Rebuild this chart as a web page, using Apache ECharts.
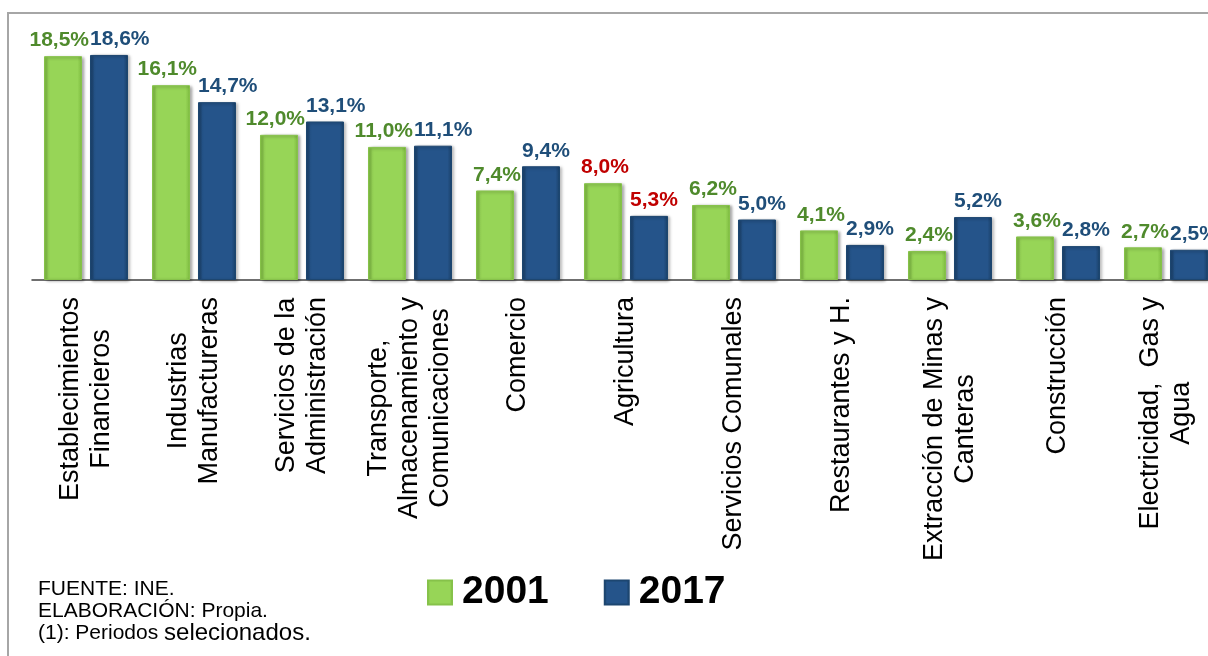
<!DOCTYPE html>
<html>
<head>
<meta charset="utf-8">
<script src="https://cdn.jsdelivr.net/npm/echarts@6/dist/echarts.min.js"></script>
<style>
  html, body { margin: 0; padding: 0; background: #fff; }
  #chart { width: 1208px; height: 656px; }
</style>
</head>
<body>
<div id="chart"></div>
<script>
// categorías del eje X (saltos de línea como en el original)
const categories = [
  "Establecimientos\nFinancieros",
  "Industrias\nManufactureras",
  "Servicios de la\nAdministración",
  "Transporte,\nAlmacenamiento y\nComunicaciones",
  "Comercio",
  "Agricultura",
  "Servicios Comunales",
  "Restaurantes y H.",
  "Extracción de Minas y\nCanteras",
  "Construcción",
  "Electricidad,  Gas y\nAgua"
];
const seriesNames = ["2001", "2017"];
const values2001 = [18.5, 16.1, 12.0, 11.0, 7.4, 8.0, 6.2, 4.1, 2.4, 3.6, 2.7];
const values2017 = [18.6, 14.7, 13.1, 11.1, 9.4, 5.3, 5.0, 2.9, 5.2, 2.8, 2.5];
const redLabelCategories = ["Agricultura"];
const footerLines = ["FUENTE: INE.", "ELABORACIÓN: ", "Propia.", "(1): Periodos ", "selecionados."];

const FONT = 'Arial, "Liberation Sans", sans-serif';
const AXIS_FONT_SIZE = 27;
const LABEL_FONT_SIZE = 21;
const BAR_WIDTH = 38;
const BAR_GAP = 0.21;

function hGradient(edge, main) {
  return {
    type: "linear", x: 0, y: 0, x2: 1, y2: 0,
    colorStops: [
      { offset: 0, color: edge },
      { offset: 0.12, color: main },
      { offset: 0.88, color: main },
      { offset: 1, color: edge }
    ]
  };
}

function fmt(v) {
  return v.toFixed(1).replace(".", ",") + "%";
}

// ancho de la línea más larga: las líneas van centradas y el bloque
// termina junto al eje (como en Excel)
const measureCtx = document.createElement("canvas").getContext("2d");
function textWidth(text, font) {
  measureCtx.font = font;
  return measureCtx.measureText(text).width;
}
function blockWidth(text) {
  return Math.max.apply(null, text.split("\n").map(function (l) {
    return textWidth(l, AXIS_FONT_SIZE + "px " + FONT);
  }));
}

const axisData = categories.map(function (c) {
  return { value: c, textStyle: { align: "center", padding: [0, blockWidth(c), 0, 0] } };
});

// separa las etiquetas de un mismo par cuando se pisan
function pairLabelLayout(isFirst) {
  return function (params) {
    const i = params.dataIndex;
    const own = isFirst ? values2001[i] : values2017[i];
    const other = isFirst ? values2017[i] : values2001[i];
    const base = isFirst ? 2 : 5;
    const pxPerUnit = params.rect.height / own;
    if (Math.abs(own - other) * pxPerUnit >= params.labelRect.height) {
      return { dx: base };
    }
    const otherW = textWidth(fmt(other), "bold " + LABEL_FONT_SIZE + "px " + FONT);
    const centerGap = BAR_WIDTH * (1 + BAR_GAP) + 3;
    const overlap = (params.labelRect.width + otherW) / 2 + 1 - centerGap;
    if (overlap <= 0) {
      return { dx: base };
    }
    return { dx: base + (isFirst ? -overlap / 2 : overlap / 2) };
  };
}

// datos con color de etiqueta en rojo para Agricultura
function buildData(values) {
  return values.map(function (v, i) {
    if (redLabelCategories.indexOf(categories[i]) >= 0) {
      return { value: v, label: { color: "#C00000" } };
    }
    return v;
  });
}

const myChart = echarts.init(document.getElementById("chart"));

const option = {
  animation: false,
  grid: { left: 32, right: -12, top: 38, bottom: 376, outerBoundsMode: "none" },
  xAxis: {
    type: "category",
    data: axisData,
    axisLine: { lineStyle: { color: "#404040", width: 1.5 } },
    axisTick: { alignWithLabel: true, length: 6, lineStyle: { color: "#404040", width: 1.5 } },
    axisLabel: {
      interval: 0,
      rotate: 90,
      margin: 17,
      color: "#000",
      fontFamily: FONT,
      fontSize: AXIS_FONT_SIZE,
      lineHeight: 31
    }
  },
  yAxis: {
    type: "value",
    min: 0,
    max: 20,
    show: false,
    splitLine: { show: false }
  },
  legend: {
    data: seriesNames,
    left: 422,
    top: 568,
    itemWidth: 24,
    itemHeight: 24,
    itemGap: 55,
    icon: "rect",
    textStyle: {
      fontFamily: FONT,
      fontSize: 39,
      fontWeight: "bold",
      color: "#000",
      padding: [0, 0, 0, 5]
    }
  },
  graphic: [
    {
      type: "rect",
      z: -10,
      shape: { x: 8, y: 13, width: 1400, height: 1000 },
      style: { fill: "none", stroke: "#a6a6a6", lineWidth: 2 }
    },
    {
      type: "text",
      left: 38,
      top: 579,
      style: {
        text: "{a|" + footerLines[0] + "}\n{a|" + footerLines[1] + "}{b|" + footerLines[2] +
              "}\n{a|" + footerLines[3] + "}{c|" + footerLines[4] + "}",
        fill: "#000",
        font: "21px " + FONT,
        rich: {
          a: { fontSize: 21, lineHeight: 22, fontFamily: FONT, fill: "#000" },
          b: { fontSize: 21, lineHeight: 22, fontFamily: FONT, fill: "#000" },
          c: { fontSize: 24, lineHeight: 22, fontFamily: FONT, fill: "#000" }
        }
      }
    }
  ],
  series: [
    {
      name: seriesNames[0],
      type: "bar",
      data: buildData(values2001),
      barWidth: BAR_WIDTH,
      barGap: BAR_GAP * 100 + "%",
      itemStyle: {
        color: hGradient("#7DBB3F", "#97D557"),
        borderColor: "#86C24A",
        borderWidth: 1,
        shadowColor: "rgba(0,0,0,0.35)",
        shadowBlur: 3,
        shadowOffsetX: 2,
        shadowOffsetY: 1
      },
      label: {
        show: true,
        position: "top",
        distance: 5,
        formatter: function (p) { return fmt(p.value); },
        fontFamily: FONT,
        fontSize: LABEL_FONT_SIZE,
        fontWeight: "bold",
        color: "#4F8A2C"
      },
      labelLayout: pairLabelLayout(true)
    },
    {
      name: seriesNames[1],
      type: "bar",
      data: buildData(values2017),
      barWidth: BAR_WIDTH,
      itemStyle: {
        color: hGradient("#1A4068", "#25548A"),
        borderColor: "#1D4670",
        borderWidth: 1,
        shadowColor: "rgba(0,0,0,0.35)",
        shadowBlur: 3,
        shadowOffsetX: 2,
        shadowOffsetY: 1
      },
      label: {
        show: true,
        position: "top",
        distance: 5,
        formatter: function (p) { return fmt(p.value); },
        fontFamily: FONT,
        fontSize: LABEL_FONT_SIZE,
        fontWeight: "bold",
        color: "#1F4E79"
      },
      labelLayout: pairLabelLayout(false)
    }
  ]
};

myChart.setOption(option);
</script>
</body>
</html>
